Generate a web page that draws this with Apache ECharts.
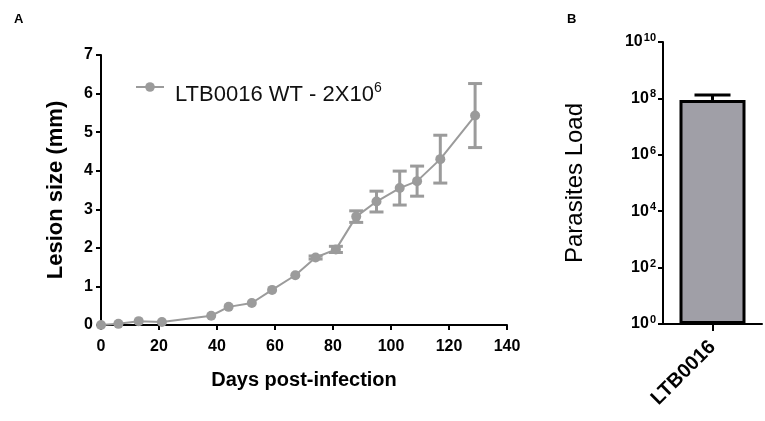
<!DOCTYPE html>
<html>
<head>
<meta charset="utf-8">
<script src="https://cdn.jsdelivr.net/npm/echarts@6/dist/echarts.min.js"></script>
<style>
  html, body { margin: 0; padding: 0; background: #fff; }
  #chart { width: 765px; height: 421px; }
</style>
</head>
<body>
<div id="chart"></div>
<script>
// panel A: lesion size over time
const days     = [0, 6, 13, 21, 38, 44, 52, 59, 67, 74, 81, 88, 95, 103, 109, 117, 129];
const lesion   = [0, 0.03, 0.1, 0.08, 0.24, 0.47, 0.57, 0.91, 1.29, 1.75, 1.96, 2.81, 3.2, 3.55, 3.73, 4.3, 5.43];
const lesionSd = [0, 0, 0, 0, 0, 0, 0, 0, 0, 0.04, 0.08, 0.15, 0.27, 0.44, 0.39, 0.62, 0.83];

// panel B: parasite load
const strains  = ['LTB0016'];
const load     = [8.8e7];
const loadHigh = [1.32e8];

const GRAY = '#9b9b9b';
const FONT = 'Liberation Sans, Arial, sans-serif';

const chart = echarts.init(document.getElementById('chart'));

function errorBars(params, api) {
  const x = api.value(0);
  const lo = api.coord([x, api.value(1)]);
  const hi = api.coord([x, api.value(2)]);
  const w = 7;
  if (Math.abs(hi[1] - lo[1]) < 2) return null;
  const style = { stroke: GRAY, lineWidth: 3 };
  return {
    type: 'group',
    children: [
      { type: 'line', shape: { x1: lo[0], y1: lo[1], x2: hi[0], y2: hi[1] }, style },
      { type: 'line', shape: { x1: lo[0] - w, y1: lo[1], x2: lo[0] + w, y2: lo[1] }, style },
      { type: 'line', shape: { x1: hi[0] - w, y1: hi[1], x2: hi[0] + w, y2: hi[1] }, style }
    ]
  };
}

function loadErr(params, api) {
  const c = api.value(0);
  const top = api.coord([c, api.value(2)]);
  const base = api.coord([c, api.value(1)]);
  const w = 18;
  const style = { stroke: '#000', lineWidth: 3 };
  return {
    type: 'group',
    children: [
      { type: 'line', shape: { x1: top[0], y1: base[1], x2: top[0], y2: top[1] }, style },
      { type: 'line', shape: { x1: top[0] - w, y1: top[1], x2: top[0] + w, y2: top[1] }, style }
    ]
  };
}

const axisLine = { show: true, onZero: false, lineStyle: { color: '#000', width: 2 } };
const axisTick = { show: true, length: 5, lineStyle: { color: '#000', width: 2 } };
const tickLabel = { color: '#000', fontFamily: FONT, fontWeight: 'bold', fontSize: 16 };

chart.setOption({
  backgroundColor: '#fff',
  animation: false,
  textStyle: { fontFamily: FONT },
  title: [
    { text: 'A', left: 9, top: 8, textStyle: { fontSize: 13, fontWeight: 'bold', color: '#000' } },
    { text: 'B', left: 562, top: 8, textStyle: { fontSize: 13, fontWeight: 'bold', color: '#000' } }
  ],
  legend: {
    left: 130, top: 76,
    itemWidth: 28, itemHeight: 12,
    itemGap: 10,
    data: ['LTB0016 WT - 2X10^6'],
    formatter: () => '{a|LTB0016 WT - 2X10}{s|6}',
    textStyle: {
      padding: [16, 0, 0, 6],
      rich: {
        a: { fontSize: 22, color: '#111', fontFamily: FONT },
        s: { fontSize: 14, color: '#111', fontFamily: FONT, verticalAlign: 'top', padding: [0, 0, 14, 0] }
      }
    }
  },
  grid: [
    { left: 101, right: 258, top: 55, bottom: 96 },
    { left: 663, right: 3, top: 42, bottom: 97 }
  ],
  xAxis: [
    {
      gridIndex: 0, type: 'value', min: 0, max: 140, interval: 20,
      name: 'Days post-infection', nameLocation: 'middle', nameGap: 45,
      nameTextStyle: { color: '#000', fontSize: 20, fontWeight: 'bold' },
      axisLine, axisTick, splitLine: { show: false },
      axisLabel: Object.assign({ margin: 14 }, tickLabel)
    },
    {
      gridIndex: 1, type: 'category', data: strains,
      axisLine, axisTick: { show: true, length: 7, alignWithLabel: true, lineStyle: { color: '#000', width: 2 } },
      axisLabel: Object.assign({}, tickLabel, { rotate: 45, fontSize: 20, margin: 20 })
    }
  ],
  yAxis: [
    {
      gridIndex: 0, type: 'value', min: 0, max: 7, interval: 1,
      name: 'Lesion size (mm)', nameLocation: 'middle', nameGap: 34,
      nameTextStyle: { color: '#000', fontSize: 22, fontWeight: 'bold' },
      axisLine, axisTick, splitLine: { show: false },
      axisLabel: Object.assign({ margin: 8 }, tickLabel)
    },
    {
      gridIndex: 1, type: 'log', logBase: 10, min: 1, max: 1e10, interval: 2,
      name: 'Parasites Load', nameLocation: 'middle', nameGap: 76,
      nameTextStyle: { color: '#000', fontSize: 24 },
      axisLine, axisTick, splitLine: { show: false }, minorTick: { show: false },
      axisLabel: {
        margin: 7,
        formatter: v => '{b|10}{s|' + Math.round(Math.log10(v)) + '}',
        rich: {
          b: { fontSize: 16, fontWeight: 'bold', color: '#000', fontFamily: FONT },
          s: { fontSize: 11, fontWeight: 'bold', color: '#000', fontFamily: FONT, verticalAlign: 'top', padding: [0, 0, 8, 1] }
        }
      }
    }
  ],
  series: [
    {
      type: 'custom', xAxisIndex: 0, yAxisIndex: 0, z: 1,
      renderItem: errorBars,
      data: days.map((d, i) => [d, lesion[i] - lesionSd[i], lesion[i] + lesionSd[i]])
    },
    {
      name: 'LTB0016 WT - 2X10^6',
      type: 'line', xAxisIndex: 0, yAxisIndex: 0, z: 2,
      symbol: 'circle', symbolSize: 10,
      lineStyle: { color: GRAY, width: 2 },
      itemStyle: { color: GRAY },
      data: days.map((d, i) => [d, lesion[i]])
    },
    {
      type: 'custom', xAxisIndex: 1, yAxisIndex: 1, z: 1,
      renderItem: loadErr,
      data: strains.map((s, i) => [i, load[i], loadHigh[i]])
    },
    {
      type: 'bar', xAxisIndex: 1, yAxisIndex: 1, z: 2,
      barWidth: 66,
      itemStyle: { color: '#a09fa7', borderColor: '#000', borderWidth: 3 },
      data: load
    }
  ]
});
</script>
</body>
</html>
